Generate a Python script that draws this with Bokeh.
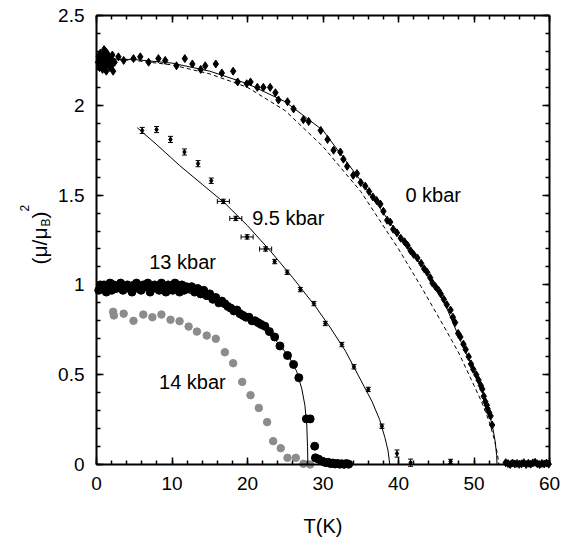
from bokeh.plotting import figure
from bokeh.models import (Range1d, LinearAxis, Label, Whisker, ColumnDataSource,
                          TeeHead, SingleIntervalTicker)
from bokeh.embed import file_html
from bokeh.resources import INLINE
import math

# ---------------- data ----------------
# 0 kbar (black diamonds)
T0 = [0.2, 0.3, 0.4, 0.5, 0.5, 0.6, 0.7, 0.8, 0.9, 1.0, 1.0, 1.1, 1.2, 1.3, 1.4,
      1.5, 1.6, 1.7, 1.8, 1.9, 2.0, 2.1, 2.2, 2.4, 0.4, 0.8, 1.2, 1.6, 2.0, 1.3,
      2.9, 3.6, 4.9, 5.8, 6.9, 8.2, 9.1, 10.6, 11.7, 12.7, 13.8, 14.4, 15.8, 16.6,
      18.1, 18.7, 19.9, 20.4, 21.3, 22.1, 23.0, 23.7, 24.1, 25.3, 26.1, 27.4, 28.1,
      29.7, 30.6, 31.4, 32.3, 32.7, 33.2, 34.0, 34.5, 35.0, 35.6, 36.1, 36.6, 37.1,
      37.6, 38.0, 38.5, 38.9, 39.3, 39.8, 40.3, 40.8, 41.2, 41.6, 42.0, 42.5, 43.0,
      43.4, 43.8, 44.2, 44.5, 44.9, 45.3, 45.6, 46.0, 46.4, 46.9, 47.2, 47.5, 47.9,
      48.2, 48.6, 48.9, 49.3, 49.6, 49.9, 50.3, 50.6, 50.9, 51.1, 51.3, 51.5, 51.7,
      51.8, 52.0, 52.2, 52.4,
      54.2, 54.5, 54.8, 55.1, 55.4, 55.7, 56.0, 56.3, 56.6, 56.9, 57.2, 57.5, 57.8,
      58.1, 58.4, 58.7, 59.0, 59.3, 59.6, 59.9]
V0 = [2.24, 2.27, 2.21, 2.25, 2.29, 2.23, 2.26, 2.20, 2.28, 2.24, 2.31, 2.22, 2.26, 2.25, 2.29,
      2.23, 2.27, 2.24, 2.21, 2.26, 2.25, 2.28, 2.19, 2.24, 2.26, 2.23, 2.30, 2.26, 2.22, 2.19,
      2.27, 2.25, 2.26, 2.27, 2.24, 2.26, 2.25, 2.22, 2.26, 2.23, 2.20, 2.22, 2.23, 2.18,
      2.19, 2.13, 2.12, 2.13, 2.10, 2.10, 2.10, 2.07, 2.03, 2.02, 1.98, 1.92, 1.91,
      1.86, 1.81, 1.75, 1.74, 1.70, 1.66, 1.61, 1.62, 1.57, 1.55, 1.52, 1.49, 1.47,
      1.45, 1.41, 1.36, 1.35, 1.31, 1.29, 1.26, 1.24, 1.22, 1.19, 1.17, 1.15, 1.12,
      1.09, 1.07, 1.04, 1.01, 0.99, 0.97, 0.95, 0.92, 0.89, 0.86, 0.82, 0.79, 0.73,
      0.71, 0.67, 0.64, 0.60, 0.56, 0.53, 0.50, 0.47, 0.44, 0.42, 0.38, 0.35, 0.33,
      0.31, 0.29, 0.27, 0.22,
      0.010, 0.005, 0.000, 0.008, 0.003, 0.006, 0.001, 0.004, 0.010, 0.000, 0.007, 0.002, 0.009,
      0.012, 0.004, 0.000, 0.006, 0.003, 0.008, 0.002]

# 0 kbar fits: solid and dashed
T0_fit = [0, 5, 10, 15, 20, 25, 30, 35, 40, 43, 46, 48, 50, 51, 52, 52.5, 52.8, 53.0, 53.05]
V0_fit = [2.26, 2.255, 2.235, 2.19, 2.12, 2.02, 1.86, 1.58, 1.28, 1.11, 0.91, 0.71, 0.52,
          0.42, 0.29, 0.20, 0.13, 0.05, 0.0]
T0_dash = [0, 5, 10, 15, 20, 25, 30, 35, 40, 43, 46, 48, 50, 51, 52, 52.7, 53.1, 53.3]
V0_dash = [2.26, 2.25, 2.225, 2.175, 2.10, 1.97, 1.77, 1.52, 1.20, 0.99, 0.77, 0.62, 0.44,
           0.35, 0.24, 0.14, 0.06, 0.0]

# 9.5 kbar (small diamonds with error bars)
T95 = [6.05, 7.95, 9.8, 11.65, 13.45, 15.2, 16.8, 18.45, 19.95, 22.4, 23.6, 25.25, 27.0,
       28.8, 30.3, 32.5, 34.1, 36.0, 37.8, 39.8, 41.6, 46.9]
V95 = [1.86, 1.865, 1.81, 1.74, 1.675, 1.58, 1.465, 1.37, 1.267, 1.20, 1.13, 1.07, 0.974,
       0.896, 0.785, 0.668, 0.544, 0.418, 0.213, 0.061, 0.01, 0.017]
E95 = [0.017, 0.017, 0.017, 0.017, 0.017, 0.015, 0.012, 0.012, 0.012, 0.012, 0.012, 0.012,
       0.012, 0.012, 0.012, 0.012, 0.012, 0.012, 0.012, 0.02, 0.02, 0.012]
TX95 = [16.8, 18.45, 19.95, 22.4]
VX95 = [1.465, 1.37, 1.267, 1.20]
EX95 = [0.8, 0.8, 0.8, 0.8]
T95_fit = [5.4, 8, 11, 14, 17, 20, 23, 26, 29, 31, 33, 35, 36.5, 37.5, 38.2, 38.6, 38.85]
V95_fit = [1.875, 1.78, 1.665, 1.56, 1.455, 1.33, 1.19, 1.04, 0.88, 0.76, 0.63, 0.47, 0.35,
           0.25, 0.15, 0.08, 0.0]

# 13 kbar (black circles)
T13 = [0.3, 0.5, 0.8, 1.0, 1.3, 1.5, 1.8, 2.0,
       2.3, 2.6, 2.9, 3.2, 3.5, 3.8, 4.1, 4.4, 4.7, 5.0,
       5.3, 5.6, 5.9, 6.2, 6.5, 6.8, 7.1, 7.4, 7.7, 8.0,
       8.3, 8.6, 8.9, 9.2, 9.5, 9.8, 10.1, 10.4, 10.7, 11.0,
       11.3, 11.6, 11.9, 12.2,
       12.6, 13.0, 13.4, 13.8, 14.2, 14.6, 15.0, 15.4, 15.8, 16.2, 16.6, 17.0,
       17.4, 17.8, 18.2, 18.6, 19.0, 19.4, 19.8, 20.2, 20.6, 21.0, 21.4, 21.8,
       22.3, 22.9, 23.6, 24.3,
       25.3, 26.1, 26.8, 27.8, 28.3, 28.9, 29.0, 29.4,
       29.8, 30.1, 30.4, 30.7, 31.0, 31.3, 31.6, 31.9, 32.2, 32.5, 32.8, 33.1, 33.4]
V13 = [0.97, 1.00, 0.98, 1.00, 0.96, 0.99, 1.01, 0.97,
       1.00, 0.98, 0.99, 1.01, 0.97, 0.99, 1.00, 0.98, 0.96, 1.00,
       1.01, 0.98, 0.97, 1.00, 0.99, 1.01, 0.96, 0.98, 1.00, 0.99,
       0.97, 1.01, 0.98, 0.96, 1.00, 0.99, 0.97, 1.01, 0.98, 0.96,
       1.00, 0.97, 0.99, 0.98,
       0.99, 0.96, 0.98, 0.95, 0.97, 0.94, 0.95, 0.92, 0.93, 0.90, 0.91, 0.895,
       0.88, 0.87, 0.855, 0.86, 0.84, 0.83, 0.82, 0.82, 0.80, 0.80, 0.79, 0.78,
       0.77, 0.74, 0.71, 0.66,
       0.607, 0.557, 0.483, 0.254, 0.254, 0.102, 0.037, 0.03,
       0.02, 0.015, 0.01, 0.012, 0.005, 0.008, 0.003, 0.006, 0.002, 0.004, 0.001, 0.005, 0.002]
T13_fit = [0, 5, 10, 15, 18, 20, 22, 24, 25.5, 26.5, 27.2, 27.6, 27.85, 27.95, 28.0]
V13_fit = [0.99, 0.99, 0.975, 0.93, 0.87, 0.82, 0.76, 0.68, 0.60, 0.52, 0.42, 0.33, 0.22,
           0.10, 0.0]

# 14 kbar (grey circles)
T14 = [2.2, 2.3, 3.6, 4.9, 6.2, 7.4, 8.6, 9.8, 11.0, 12.2, 13.3, 14.6, 15.8, 17.0, 18.1,
       19.3, 20.4, 21.5, 22.6, 23.4, 24.4, 25.3, 26.4, 27.4, 28.3]
V14 = [0.85, 0.83, 0.84, 0.80, 0.835, 0.82, 0.835, 0.806, 0.798, 0.768, 0.74, 0.718, 0.70,
       0.625, 0.564, 0.46, 0.386, 0.315, 0.236, 0.13, 0.091, 0.037, 0.037, 0.004, 0.0]

X_MIN, X_MAX = 0, 60
Y_MIN, Y_MAX = 0, 2.5
X_TICK_STEP = 10
Y_TICK_STEP = 0.5

FONT = "Liberation Sans"

# ---------------- layout geometry (page pixels) ----------------
W, H = 571, 546
FRAME_L, FRAME_R, FRAME_T, FRAME_B = 96, 549, 15, 464
PX_PER_X = (FRAME_R - FRAME_L) / (X_MAX - X_MIN)
PX_PER_Y = (FRAME_B - FRAME_T) / (Y_MAX - Y_MIN)
# The plotting area covers the whole page so that tick labels and axis titles
# are not clipped; the four axes are pinned at the data box edges.
x_lo = X_MIN - FRAME_L / PX_PER_X
x_hi = X_MAX + (W - FRAME_R) / PX_PER_X
y_lo = Y_MIN - (H - FRAME_B) / PX_PER_Y
y_hi = Y_MAX + FRAME_T / PX_PER_Y

def px2x(px):
    return X_MIN + (px - FRAME_L) / PX_PER_X
def py2y(py):
    return Y_MIN + (FRAME_B - py) / PX_PER_Y

p = figure(frame_width=W, frame_height=H, output_backend="svg",
           toolbar_location=None,
           x_range=Range1d(x_lo, x_hi), y_range=Range1d(y_lo, y_hi),
           x_axis_location=None, y_axis_location=None,
           min_border=0)
p.outline_line_color = None
p.background_fill_color = "white"
p.border_fill_color = "white"
p.xgrid.visible = False
p.ygrid.visible = False

bottom = LinearAxis(ticker=SingleIntervalTicker(interval=X_TICK_STEP, num_minor_ticks=5),
                    bounds=(X_MIN, X_MAX), fixed_location=Y_MIN)
top = LinearAxis(ticker=SingleIntervalTicker(interval=X_TICK_STEP, num_minor_ticks=5),
                 bounds=(X_MIN, X_MAX), fixed_location=Y_MAX)
left = LinearAxis(ticker=SingleIntervalTicker(interval=Y_TICK_STEP, num_minor_ticks=5),
                  bounds=(Y_MIN, Y_MAX), fixed_location=X_MIN)
right = LinearAxis(ticker=SingleIntervalTicker(interval=Y_TICK_STEP, num_minor_ticks=5),
                   bounds=(Y_MIN, Y_MAX), fixed_location=X_MAX)
p.add_layout(bottom, "below")
p.add_layout(left, "left")
p.add_layout(top, "above")
p.add_layout(right, "right")

for ax in [bottom, left, top, right]:
    ax.axis_line_width = 2
    ax.axis_line_color = "black"
    ax.major_tick_in = 7
    ax.major_tick_out = 0
    ax.minor_tick_in = 4
    ax.minor_tick_out = 0
    ax.major_tick_line_width = 1.5
    ax.minor_tick_line_width = 1.5
    ax.major_tick_line_color = "black"
    ax.minor_tick_line_color = "black"
    ax.major_label_text_font = FONT
    ax.major_label_text_font_size = "19px"
    ax.major_label_text_color = "black"
    ax.major_label_standoff = 12

for ax in [top, right]:
    ax.major_label_text_color = None
    ax.major_label_text_font_size = "1px"
    ax.major_label_standoff = 0

# curves
p.line(T0_fit, V0_fit, line_color="black", line_width=1)
p.line(T0_dash, V0_dash, line_color="black", line_width=1, line_dash="4 3")
p.line(T95_fit, V95_fit, line_color="black", line_width=1)
p.line(T13_fit, V13_fit, line_color="black", line_width=1)

# error bars for 9.5 kbar
src95 = ColumnDataSource(dict(x=T95, y=V95,
                              lo=[v - e for v, e in zip(V95, E95)],
                              hi=[v + e for v, e in zip(V95, E95)]))
p.add_layout(Whisker(source=src95, base="x", lower="lo", upper="hi", dimension="height",
                     line_color="black", line_width=1,
                     lower_head=TeeHead(size=5, line_width=1, line_color="black"),
                     upper_head=TeeHead(size=5, line_width=1, line_color="black")))
srcx = ColumnDataSource(dict(y=VX95,
                             lo=[t - e for t, e in zip(TX95, EX95)],
                             hi=[t + e for t, e in zip(TX95, EX95)]))
p.add_layout(Whisker(source=srcx, base="y", lower="lo", upper="hi", dimension="width",
                     line_color="black", line_width=1,
                     lower_head=TeeHead(size=5, line_width=1, line_color="black"),
                     upper_head=TeeHead(size=5, line_width=1, line_color="black")))

# markers
p.scatter(T14, V14, marker="circle", size=7.5, fill_color="#8c8c8c", line_color="#8c8c8c")
p.scatter(T13, V13, marker="circle", size=8, fill_color="black", line_color="black")
p.scatter(T0, V0, marker="diamond", size=8, fill_color="black", line_color="black")
p.scatter(T95, V95, marker="diamond", size=5, fill_color="black", line_color="black")

# series labels
for txt, x, y in [("0 kbar", 44.6, 1.503), ("9.5 kbar", 25.4, 1.37),
                  ("13 kbar", 11.4, 1.13), ("14 kbar", 12.7, 0.457)]:
    p.add_layout(Label(x=x, y=y, text=txt, text_align="center", text_baseline="middle",
                       text_font=FONT, text_font_size="20px", text_color="black"))

# x-axis title
p.add_layout(Label(x=(X_MIN + X_MAX) / 2, y=py2y(525), text="T(K)", text_align="center",
                   text_baseline="middle", text_font=FONT, text_font_size="20px",
                   text_color="black"))

# y-axis title (mu/mu_B)^2 built from pieces, rotated
ang = math.pi / 2
def lab(px, py, txt, size):
    p.add_layout(Label(x=px2x(px), y=py2y(py), text=txt,
                       angle=ang, text_align="left", text_baseline="alphabetic",
                       text_font=FONT, text_font_size=size, text_color="black"))

lab(39, 264, "(\u03bc/\u03bc", "21px")
lab(45.5, 226, "B", "12px")
lab(39, 218, ")", "21px")
lab(23.5, 211, "2", "12px")

open("out.html", "w").write(file_html(p, INLINE))
